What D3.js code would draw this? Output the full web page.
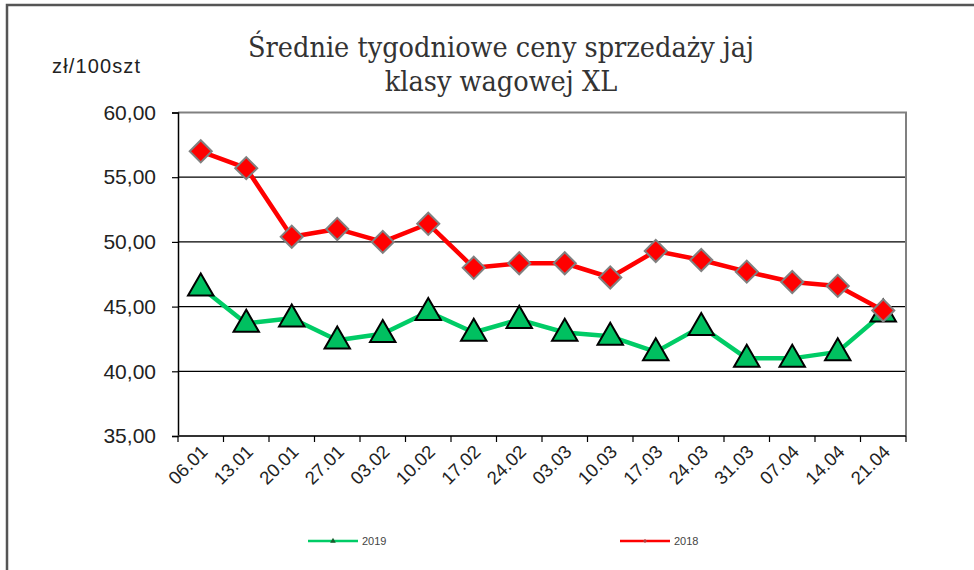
<!DOCTYPE html>
<html>
<head>
<meta charset="utf-8">
<script src="https://cdn.jsdelivr.net/npm/d3@7"></script>
<style>
  body { margin: 0; background: #fff; }
  svg { display: block; }
</style>
</head>
<body>
<svg id="chart" width="974" height="570"></svg>
<script>
// Weekly dates
const weeks = ['06.01', '13.01', '20.01', '27.01', '03.02', '10.02', '17.02', '24.02',
               '03.03', '10.03', '17.03', '24.03', '31.03', '07.04', '14.04', '21.04'];

// Prices zł/100szt
const prices2019 = [46.5, 43.7, 44.1, 42.4, 42.9, 44.6, 43.0, 44.0,
                    43.0, 42.7, 41.5, 43.45, 41.0, 41.0, 41.5, 44.5];
const prices2018 = [57.0, 55.7, 50.4, 51.0, 50.0, 51.4, 48.0, 48.35,
                    48.35, 47.25, 49.3, 48.6, 47.7, 46.9, 46.6, 44.7];

const yTicks = [35, 40, 45, 50, 55, 60];

const titleLines = ['Średnie tygodniowe ceny sprzedaży jaj', 'klasy wagowej XL'];
const unitLabel = 'zł/100szt';

const svg = d3.select('#chart');

// outer frame (only top and left edges visible)
svg.append('path')
  .attr('d', 'M7,572 L7,5 L976,5')
  .attr('fill', 'none')
  .attr('stroke', '#555')
  .attr('stroke-width', 2.5);

const plot = { left: 178, right: 906, top: 112.5, bottom: 436 };

const x = d3.scaleBand()
  .domain(weeks)
  .range([plot.left, plot.right])
  .padding(0);

const y = d3.scaleLinear()
  .domain([35, 60])
  .range([plot.bottom, plot.top]);

const fmt = d => d.toFixed(2).replace('.', ',');

// gridlines
svg.append('g')
  .selectAll('line')
  .data(yTicks.filter(d => d > 35 && d < 60))
  .join('line')
  .attr('x1', plot.left).attr('x2', plot.right)
  .attr('y1', d => y(d)).attr('y2', d => y(d))
  .attr('stroke', '#000')
  .attr('stroke-width', 1.2);

// plot area border top / right (grey)
svg.append('path')
  .attr('d', `M${plot.left},${y(60)} L${plot.right},${y(60)} L${plot.right},${plot.bottom}`)
  .attr('fill', 'none')
  .attr('stroke', '#808080')
  .attr('stroke-width', 2);

// y axis
const yAxis = svg.append('g')
  .attr('transform', `translate(${plot.left},0)`)
  .call(d3.axisLeft(y).tickValues(yTicks).tickFormat(fmt).tickSize(6).tickPadding(16));
yAxis.select('.domain').attr('stroke', '#000').attr('stroke-width', 1.5);
yAxis.selectAll('.tick line').attr('stroke', '#000').attr('stroke-width', 1.2);
yAxis.selectAll('.tick text')
  .attr('font-family', 'Liberation Sans, Arial, sans-serif')
  .attr('font-size', 21)
  .attr('fill', '#222');

// x axis, ticks on band edges
const edges = weeks.map(d => x(d)).concat([plot.right]);
const xAxis = svg.append('g');
xAxis.append('line')
  .attr('x1', plot.left).attr('x2', plot.right)
  .attr('y1', plot.bottom).attr('y2', plot.bottom)
  .attr('stroke', '#333').attr('stroke-width', 2);
xAxis.selectAll('line.tk')
  .data(edges)
  .join('line')
  .attr('class', 'tk')
  .attr('x1', d => d).attr('x2', d => d)
  .attr('y1', plot.bottom).attr('y2', plot.bottom + 6)
  .attr('stroke', '#000').attr('stroke-width', 1.2);
xAxis.selectAll('text')
  .data(weeks)
  .join('text')
  .attr('transform', d => `translate(${x(d) + x.bandwidth() / 2 + 8},${plot.bottom + 17}) rotate(-45)`)
  .attr('text-anchor', 'end')
  .attr('font-family', 'Liberation Sans, Arial, sans-serif')
  .attr('font-size', 18.5)
  .attr('fill', '#222')
  .text(d => d);

const cx = d => x(d) + x.bandwidth() / 2;

const line = d3.line()
  .x((d, i) => cx(weeks[i]))
  .y(d => y(d));

// 2019 series
svg.append('path')
  .datum(prices2019)
  .attr('d', line)
  .attr('fill', 'none')
  .attr('stroke', '#00cc66')
  .attr('stroke-width', 4.5)
  .attr('stroke-linejoin', 'round');

const tri = d3.symbol().type(d3.symbolTriangle).size(280);
svg.append('g')
  .selectAll('path')
  .data(prices2019)
  .join('path')
  .attr('d', tri)
  .attr('transform', (d, i) => `translate(${cx(weeks[i])},${y(d) + 1})`)
  .attr('fill', '#00c060')
  .attr('stroke', '#000')
  .attr('stroke-width', 2);

// 2018 series
svg.append('path')
  .datum(prices2018)
  .attr('d', line)
  .attr('fill', 'none')
  .attr('stroke', '#ff0000')
  .attr('stroke-width', 4.5)
  .attr('stroke-linejoin', 'round');

svg.append('g')
  .selectAll('rect')
  .data(prices2018)
  .join('rect')
  .attr('x', -7.8).attr('y', -7.8)
  .attr('width', 15.6).attr('height', 15.6)
  .attr('transform', (d, i) => `translate(${cx(weeks[i])},${y(d)}) rotate(45)`)
  .attr('fill', '#ff0000')
  .attr('stroke', '#808080')
  .attr('stroke-width', 2);

// title
svg.append('g')
  .selectAll('text')
  .data(titleLines)
  .join('text')
  .attr('x', 501)
  .attr('y', (d, i) => 57 + i * 34)
  .attr('text-anchor', 'middle')
  .attr('font-family', 'DejaVu Serif Condensed, Liberation Serif, serif')
  .attr('font-size', 28.5)
  .attr('fill', '#333')
  .text(d => d);

svg.append('text')
  .attr('x', 52).attr('y', 73)
  .attr('font-family', 'Liberation Sans, Arial, sans-serif')
  .attr('font-size', 20)
  .attr('textLength', 88)
  .attr('fill', '#222')
  .text(unitLabel);

// legend
const legend = [
  { name: '2019', color: '#00cc66', x0: 308, marker: 'tri' },
  { name: '2018', color: '#ff0000', x0: 620, marker: 'dia' }
];
const lg = svg.append('g').selectAll('g')
  .data(legend)
  .join('g')
  .attr('transform', d => `translate(${d.x0},541)`);
lg.append('line')
  .attr('x1', 0).attr('x2', 50)
  .attr('stroke', d => d.color)
  .attr('stroke-width', 2.5);
lg.filter(d => d.marker === 'tri').append('path')
  .attr('d', d3.symbol().type(d3.symbolTriangle).size(14))
  .attr('transform', 'translate(25,0)')
  .attr('fill', '#1a5c2e');
lg.filter(d => d.marker === 'dia').append('rect')
  .attr('x', -1.5).attr('y', -1.5).attr('width', 3).attr('height', 3)
  .attr('transform', 'translate(25,0) rotate(45)')
  .attr('fill', '#b04040');
lg.append('text')
  .attr('x', 54).attr('y', 4)
  .attr('font-family', 'Liberation Sans Narrow, Liberation Sans, Arial, sans-serif')
  .attr('font-size', 11)
  .attr('fill', '#444')
  .text(d => d.name);
</script>
</body>
</html>
